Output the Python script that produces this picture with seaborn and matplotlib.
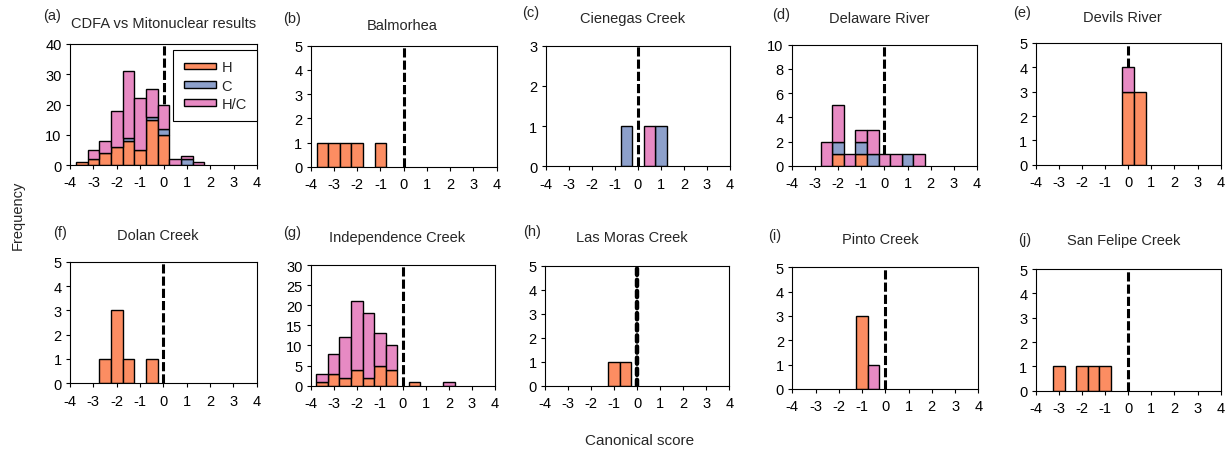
import numpy as np
import pandas as pd
import matplotlib
matplotlib.use("Agg")
import matplotlib.pyplot as plt
import seaborn as sns
from matplotlib.patches import Patch

# ---------------- data ----------------
centers = [-3.5, -3.0, -2.5, -2.0, -1.5, -1.0, -0.5, 0.0, 0.5, 1.0, 1.5, 2.0]
groups = ["H", "C", "H/C"]

titles = ["CDFA vs Mitonuclear results", "Balmorhea", "Cienegas Creek",
          "Delaware River", "Devils River", "Dolan Creek", "Independence Creek",
          "Las Moras Creek", "Pinto Creek", "San Felipe Creek"]
letters = ["(a)", "(b)", "(c)", "(d)", "(e)", "(f)", "(g)", "(h)", "(i)", "(j)"]
y_max = [40, 5, 3, 10, 5, 5, 30, 5, 5, 5]
y_step = [10, 1, 1, 2, 1, 1, 5, 1, 1, 1]

Z = [0] * 12
cdfa_H   = [1, 2, 4, 6, 8, 5, 15, 10, 0, 0, 0, 0]
cdfa_C   = [0, 0, 0, 0, 1, 0, 1, 2, 0, 2, 0, 0]
cdfa_HC  = [0, 3, 4, 12, 22, 17, 9, 8, 2, 1, 1, 0]
balm_H   = [1, 1, 1, 1, 0, 1, 0, 0, 0, 0, 0, 0]
cien_C   = [0, 0, 0, 0, 0, 0, 1, 0, 0, 1, 0, 0]
cien_HC  = [0, 0, 0, 0, 0, 0, 0, 0, 1, 0, 0, 0]
dela_H   = [0, 0, 0, 1, 0, 1, 0, 0, 0, 0, 0, 0]
dela_C   = [0, 0, 0, 1, 0, 1, 1, 0, 0, 1, 0, 0]
dela_HC  = [0, 0, 2, 3, 1, 1, 2, 1, 1, 0, 1, 0]
devi_H   = [0, 0, 0, 0, 0, 0, 0, 3, 3, 0, 0, 0]
devi_HC  = [0, 0, 0, 0, 0, 0, 0, 1, 0, 0, 0, 0]
dola_H   = [0, 0, 1, 3, 1, 0, 1, 0, 0, 0, 0, 0]
inde_H   = [1, 3, 2, 4, 2, 5, 4, 0, 1, 0, 0, 0]
inde_HC  = [2, 5, 10, 17, 16, 8, 6, 0, 0, 0, 0, 1]
lasm_H   = [0, 0, 0, 0, 0, 1, 1, 0, 0, 0, 0, 0]
pint_H   = [0, 0, 0, 0, 0, 3, 0, 0, 0, 0, 0, 0]
pint_HC  = [0, 0, 0, 0, 0, 0, 1, 0, 0, 0, 0, 0]
sanf_H   = [0, 1, 0, 1, 1, 1, 0, 0, 0, 0, 0, 0]

panels = [
    (cdfa_H, cdfa_C, cdfa_HC),
    (balm_H, Z, Z),
    (Z, cien_C, cien_HC),
    (dela_H, dela_C, dela_HC),
    (devi_H, Z, devi_HC),
    (dola_H, Z, Z),
    (inde_H, Z, inde_HC),
    (lasm_H, Z, Z),
    (pint_H, Z, pint_HC),
    (sanf_H, Z, Z),
]

# ---------------- layout (pixels) ----------------
W, Hh = 1232, 452
rects = [(70, 45, 257, 166), (310.7, 46.7, 496.7, 167.7), (545.7, 46.7, 730, 167.3),
         (791.7, 45.7, 977, 167), (1035.7, 44, 1220.7, 165.7),
         (70, 262.7, 256.7, 384.3), (310.7, 266, 495, 386.7), (545, 266.7, 729.3, 386.7),
         (792.3, 268.3, 978.3, 390), (1035.7, 270, 1220.7, 391.7)]
letter_pos = [(43, 16), (283, 19), (522, 13), (772, 15), (1013, 12.5),
              (53, 233), (283, 233), (523, 232), (768, 236), (1018, 240)]
title_pos = [(164, 23.5), (401.7, 26), (632.5, 19), (879.5, 19), (1122.5, 17.5),
             (157.5, 236), (397.5, 238.5), (631.5, 238.5), (880, 240), (1124, 241.5)]

colors = {"H": "#fc8d62", "C": "#8da0cb", "H/C": "#e78ac3"}

sns.set_theme(style="white")
plt.rcParams["font.family"] = ["Liberation Sans", "DejaVu Sans"]
plt.rcParams["axes.unicode_minus"] = False

fig = plt.figure(figsize=(W / 100, Hh / 100), dpi=100)
fig.patch.set_facecolor("white")

bin_lo = centers[0] - 0.25
bin_hi = centers[-1] + 0.25
bin_w = centers[1] - centers[0]

for i, (hv, cv, hcv) in enumerate(panels):
    l, t, r, b = rects[i]
    ax = fig.add_axes([l / W, 1 - b / Hh, (r - l) / W, (b - t) / Hh])
    rows = []
    for g, vals in zip(groups, (hv, cv, hcv)):
        for x, n in zip(centers, vals):
            rows.append({"score": x, "count": n, "group": g})
    df = pd.DataFrame(rows)

    if i == 7:
        ax.axvline(0, color="black", lw=3.2, ls=(0, (1.4, 1.1)),
                   dash_capstyle="round", zorder=0.5)
    else:
        ax.axvline(0, color="black", lw=2.2, ls=(0, (3, 1)), zorder=0.5)

    sns.histplot(data=df, x="score", weights="count", hue="group",
                 hue_order=["H/C", "C", "H"], palette=colors, multiple="stack",
                 binwidth=bin_w, binrange=(bin_lo, bin_hi),
                 edgecolor="black", linewidth=1.0, alpha=1,
                 legend=False, ax=ax)
    # hide empty (zero-height) bins so they do not draw a line on the baseline
    for p in ax.patches:
        if abs(p.get_height()) < 1e-9:
            p.set_visible(False)

    ax.set_xlim(-4, 4)
    ax.set_ylim(0, y_max[i])
    ax.set_xticks(range(-4, 5))
    ax.set_yticks(np.arange(0, y_max[i] + 0.01, y_step[i]))
    ax.set_xlabel("")
    ax.set_ylabel("")
    ax.tick_params(axis="both", direction="out", length=3, width=0.8,
                   labelsize=10.5, colors="black", bottom=True, left=True)
    ax.tick_params(axis="x", pad=4.5)
    ax.tick_params(axis="y", pad=3)
    for s in ax.spines.values():
        s.set_color("black")
        s.set_linewidth(0.8)
    ax.set_facecolor("white")

    lx, ly = letter_pos[i]
    fig.text(lx / W, 1 - ly / Hh, letters[i], fontsize=10.5, ha="left", va="center")
    tx, ty = title_pos[i]
    fig.text(tx / W, 1 - ty / Hh, titles[i], fontsize=10.5, ha="center", va="center")

    if i == 0:
        handles = [Patch(facecolor=colors[g], edgecolor="black", linewidth=1.0, label=g)
                   for g in groups]
        leg = ax.legend(handles=handles, loc="upper right",
                        bbox_to_anchor=(1.0, 1 - 6 / 121), borderaxespad=0,
                        fontsize=10.5, handlelength=2.2, handleheight=0.35,
                        handletextpad=0.4, labelspacing=0.3, borderpad=0.7,
                        fancybox=False, framealpha=1, edgecolor="black")
        leg.get_frame().set_linewidth(0.8)

fig.text(17.5 / W, 1 - 215 / Hh, "Frequency", rotation=90, fontsize=10.5,
         ha="center", va="center")
fig.text(640 / W, 1 - 441 / Hh, "Canonical score", fontsize=11,
         ha="center", va="center")

fig.savefig("out.png", dpi=100, facecolor="white")
